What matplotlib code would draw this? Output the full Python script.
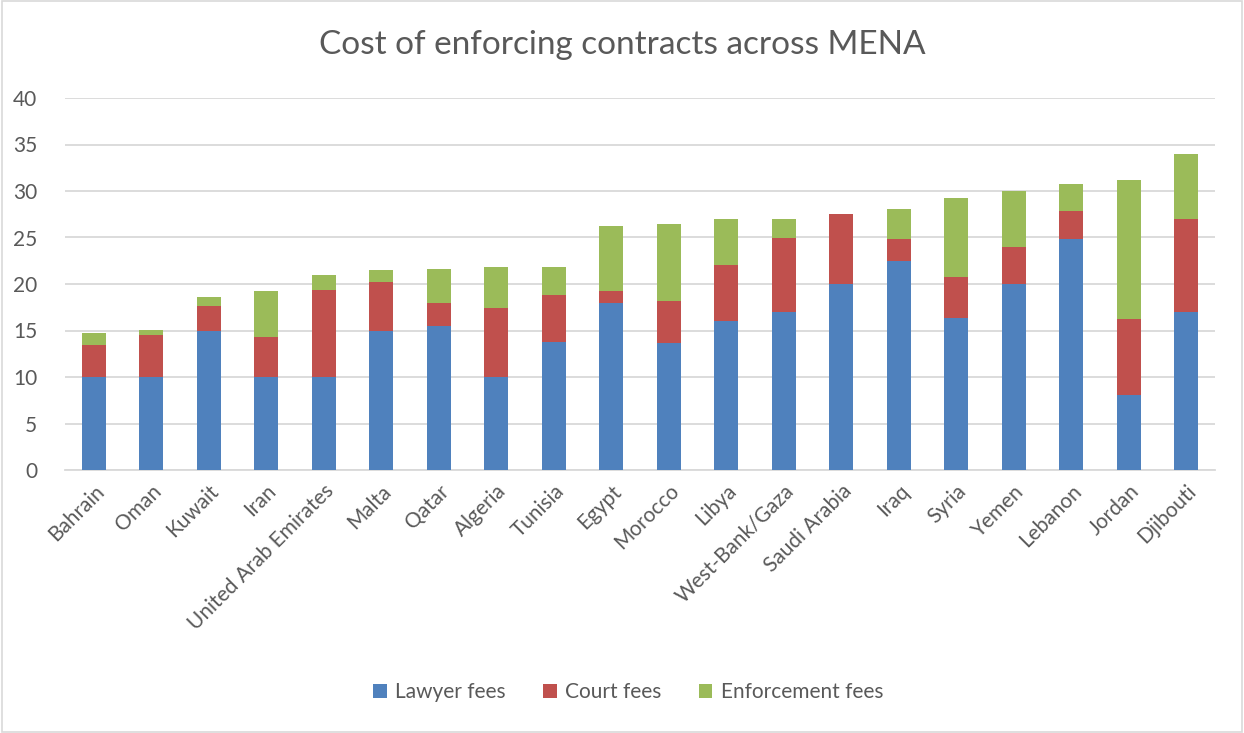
import matplotlib.pyplot as plt
import numpy as np

plt.rcParams['font.family'] = ['Lato', 'DejaVu Sans']

countries = ['Bahrain', 'Oman', 'Kuwait', 'Iran', 'United Arab Emirates', 'Malta',
             'Qatar', 'Algeria', 'Tunisia', 'Egypt', 'Morocco', 'Libya',
             'West-Bank/Gaza', 'Saudi Arabia', 'Iraq', 'Syria', 'Yemen',
             'Lebanon', 'Jordan', 'Djibouti']
lawyer = [10, 10, 15, 10, 10, 15, 15.5, 10, 13.8, 18, 13.7, 16, 17, 20, 22.5,
          16.3, 20, 24.8, 8.05, 17]
court = [3.4, 4.5, 2.6, 4.3, 9.4, 5.2, 2.5, 7.4, 5.0, 1.3, 4.5, 6.0, 8.0, 7.5,
         2.3, 4.5, 4.0, 3.0, 8.15, 10]
enforcement = [1.3, 0.6, 1.0, 5.0, 1.6, 1.3, 3.6, 4.4, 3.0, 6.9, 8.3, 5.0, 2.0,
               0.0, 3.3, 8.5, 6.0, 3.0, 15.0, 7.0]

text_col = '#595959'
fig = plt.figure(figsize=(12.44, 7.33), dpi=100)
ax = fig.add_axes([65 / 1244, 1 - 470 / 733, 1150 / 1244, 372 / 733])

x = np.arange(len(countries))
lawyer = np.array(lawyer)
court = np.array(court)
enforcement = np.array(enforcement)
w = 0.41
ax.bar(x, lawyer, w, color='#4f81bd', label='Lawyer fees', zorder=3)
ax.bar(x, court, w, bottom=lawyer, color='#c0504d', label='Court fees', zorder=3)
ax.bar(x, enforcement, w, bottom=lawyer + court, color='#9bbb59',
       label='Enforcement fees', zorder=3)

ax.set_xlim(-0.5, len(countries) - 0.5)
ax.set_ylim(0, 40)
ax.set_yticks(range(0, 41, 5))
ax.grid(axis='y', color='#d9d9d9', linewidth=1.3, zorder=0)
for s in ['top', 'right', 'left']:
    ax.spines[s].set_visible(False)
ax.spines['bottom'].set_color('#d9d9d9')
ax.spines['bottom'].set_linewidth(1.3)
ax.tick_params(axis='both', length=0, labelsize=15, colors=text_col, pad=8)
ax.tick_params(axis='y', pad=20)
ax.set_xticks(x)
ax.set_xticklabels(countries, rotation=45, ha='right', rotation_mode='anchor')

fig.text(0.5, 1 - 45 / 733, 'Cost of enforcing contracts across MENA',
         ha='center', va='center', fontsize=24, color=text_col)
fig.legend(loc='center', bbox_to_anchor=(0.505, 1 - 692 / 733), ncol=3,
           frameon=False, fontsize=15, labelcolor=text_col, handlelength=0.65,
           handleheight=0.65, columnspacing=1.8, handletextpad=0.4)

fig.patches.append(plt.Rectangle((0.002, 0.002), 0.996, 0.996, transform=fig.transFigure,
                                 fill=False, edgecolor='#d9d9d9', linewidth=1.2))
fig.savefig('out.png')
